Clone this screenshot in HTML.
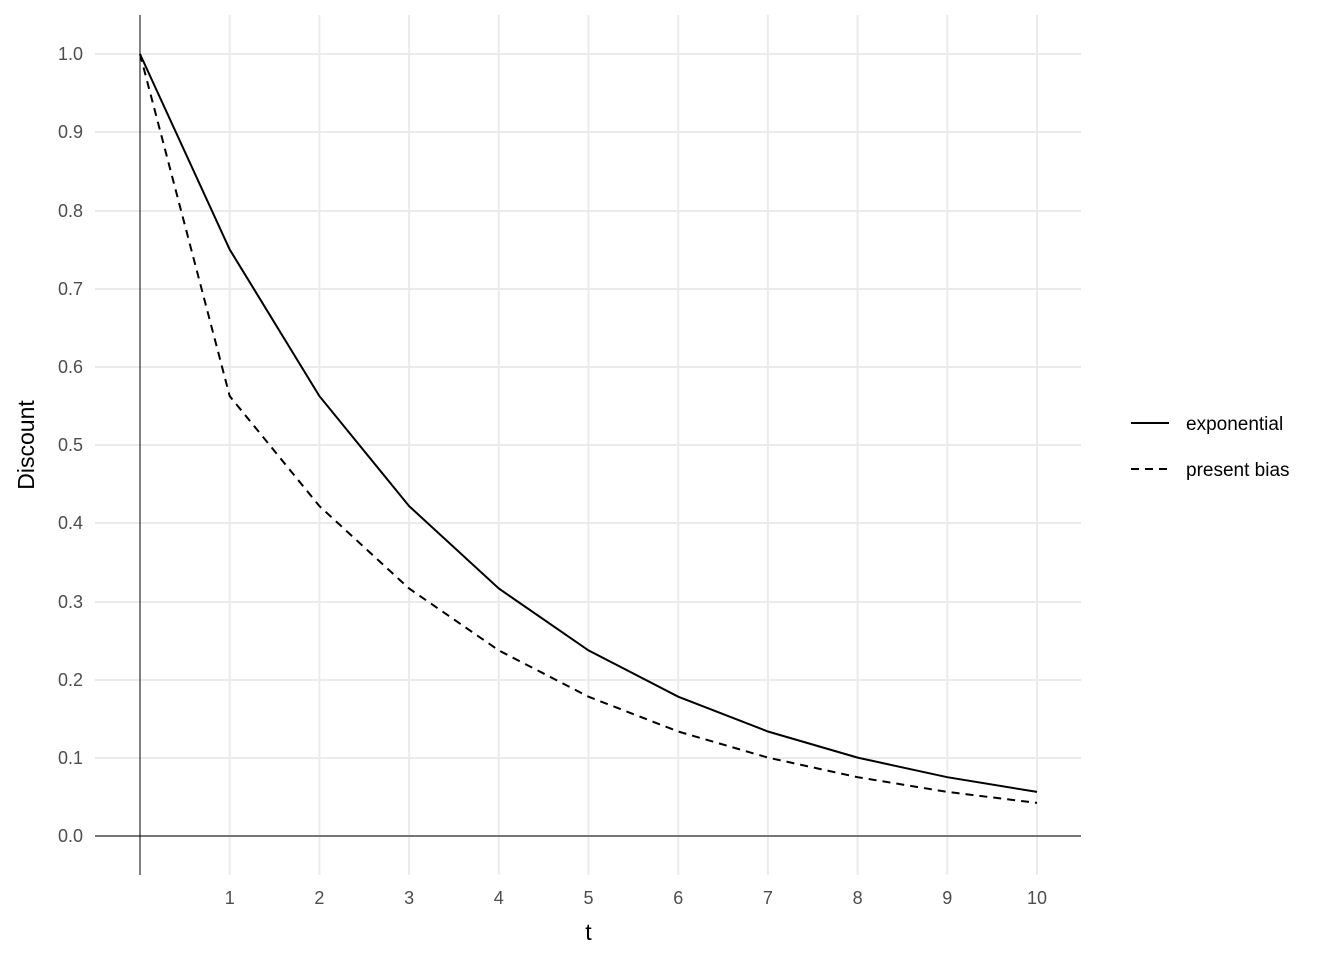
<!DOCTYPE html>
<html><head><style>body{margin:0;background:#fff}svg{display:block}</style></head><body>
<svg width="1344" height="960" xmlns="http://www.w3.org/2000/svg" font-family="Liberation Sans, sans-serif">
<g stroke="#ebebeb" stroke-width="2">
<line x1="95" x2="1081" y1="836" y2="836"/><line x1="95" x2="1081" y1="758" y2="758"/><line x1="95" x2="1081" y1="680" y2="680"/><line x1="95" x2="1081" y1="602" y2="602"/><line x1="95" x2="1081" y1="523" y2="523"/><line x1="95" x2="1081" y1="445" y2="445"/><line x1="95" x2="1081" y1="367" y2="367"/><line x1="95" x2="1081" y1="289" y2="289"/><line x1="95" x2="1081" y1="211" y2="211"/><line x1="95" x2="1081" y1="132" y2="132"/><line x1="95" x2="1081" y1="54" y2="54"/>
<line y1="15" y2="875" x1="229.7" x2="229.7"/><line y1="15" y2="875" x1="319.4" x2="319.4"/><line y1="15" y2="875" x1="409.1" x2="409.1"/><line y1="15" y2="875" x1="498.8" x2="498.8"/><line y1="15" y2="875" x1="588.5" x2="588.5"/><line y1="15" y2="875" x1="678.2" x2="678.2"/><line y1="15" y2="875" x1="767.9" x2="767.9"/><line y1="15" y2="875" x1="857.6" x2="857.6"/><line y1="15" y2="875" x1="947.3" x2="947.3"/><line y1="15" y2="875" x1="1037" x2="1037"/>
</g>
<line x1="95" x2="1081" y1="836" y2="836" stroke="#000" stroke-width="1"/>
<line x1="140" x2="140" y1="15" y2="875" stroke="#000" stroke-width="1"/>
<polyline fill="none" stroke="#000" stroke-width="2" points="140,54 229.7,249.5 319.4,396.1 409.1,506.1 498.8,588.5 588.5,650.4 678.2,696.7 767.9,731.5 857.6,757.6 947.3,777.2 1037,791.9"/>
<polyline fill="none" stroke="#000" stroke-width="2" stroke-dasharray="8,6" points="140,54 229.7,396.1 319.4,506.1 409.1,588.5 498.8,650.4 588.5,696.7 678.2,731.5 767.9,757.6 857.6,777.2 947.3,791.9 1037,802.9"/>
<g font-size="18" fill="#4d4d4d" text-anchor="end">
<text x="83" y="842">0.0</text><text x="83" y="764">0.1</text><text x="83" y="686">0.2</text><text x="83" y="608">0.3</text><text x="83" y="529">0.4</text><text x="83" y="451">0.5</text><text x="83" y="373">0.6</text><text x="83" y="295">0.7</text><text x="83" y="217">0.8</text><text x="83" y="138">0.9</text><text x="83" y="60">1.0</text>
</g>
<g font-size="18" fill="#4d4d4d" text-anchor="middle">
<text x="229.7" y="904">1</text><text x="319.4" y="904">2</text><text x="409.1" y="904">3</text><text x="498.8" y="904">4</text><text x="588.5" y="904">5</text><text x="678.2" y="904">6</text><text x="767.9" y="904">7</text><text x="857.6" y="904">8</text><text x="947.3" y="904">9</text><text x="1037" y="904">10</text>
</g>
<text x="588.5" y="940" font-size="23" text-anchor="middle">t</text>
<text transform="translate(34,445) rotate(-90)" font-size="23" text-anchor="middle">Discount</text>
<line x1="1131" x2="1169" y1="423" y2="423" stroke="#000" stroke-width="2"/>
<line x1="1131" x2="1169" y1="469" y2="469" stroke="#000" stroke-width="2" stroke-dasharray="8,6"/>
<text x="1186" y="430" font-size="19">exponential</text>
<text x="1186" y="476" font-size="19">present bias</text>
</svg>
</body></html>
